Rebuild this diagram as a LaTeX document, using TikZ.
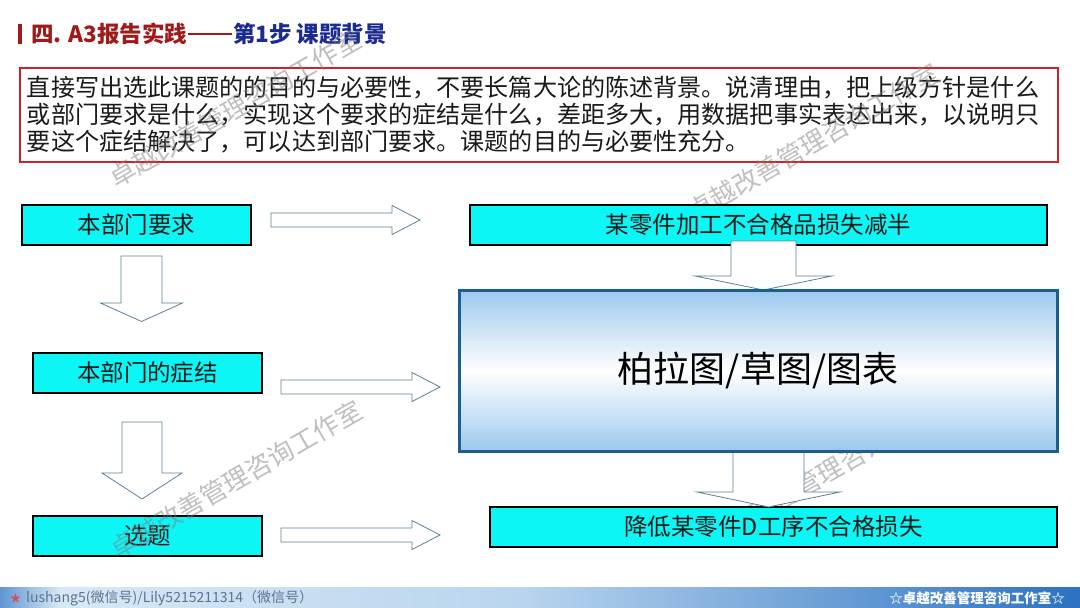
\documentclass[tikz,border=0pt]{standalone}
\usepackage{fontspec}
\setmainfont{Noto Sans CJK SC}
\definecolor{boxcyan}{HTML}{0CF6F6}
\definecolor{titlered}{HTML}{9E1B1B}
\definecolor{titleblue}{HTML}{1B2B8F}
\definecolor{framered}{HTML}{D0202A}
\definecolor{bigborder}{HTML}{1C5F8E}
\definecolor{biglight}{HTML}{9CC8EE}
\definecolor{arrowline}{HTML}{5E8093}
\definecolor{footl}{HTML}{D8E8F5}
\definecolor{footm}{HTML}{B9D5EE}
\definecolor{footr}{HTML}{2B72C2}
\definecolor{foottext}{HTML}{5C7393}
\definecolor{starred}{HTML}{D05060}
\definecolor{bodytext}{HTML}{1A1A1A}
\tikzset{
  cyanbox/.style={draw=black, line width=1.4pt, fill=boxcyan, inner sep=0pt,
    font=\fontsize{23.5}{26}\selectfont, text=bodytext},
  blockarrow/.style={draw=arrowline, fill=white, line width=0.8pt},
  watermark/.style={text=gray, opacity=0.5, rotate=30, inner sep=0pt,
    font=\fontsize{26}{26}\selectfont},
}
\begin{document}
\begin{tikzpicture}[x=1pt,y=-1pt]
\useasboundingbox (0,0) rectangle (1080,608);
\fill[white] (0,0) rectangle (1080,608);

% title
\fill[titlered] (18,24) rectangle (22,44);
\node[anchor=west, inner sep=0pt, font=\fontsize{22.5}{24}\selectfont\bfseries] (title) at (31,34)
  {\textcolor{titlered}{四. A3报告实践\kern1pt\rule[0.36em]{44pt}{1.8pt}\kern1pt}\textcolor{titleblue}{第1步 课题背景}};

% description frame
\node[draw=framered, line width=2.5pt, minimum width=1038pt, minimum height=94pt,
      inner xsep=7pt, inner ysep=0pt, text width=1024pt, align=left,
      font=\fontsize{24.1}{27}\selectfont, text=bodytext] (desc) at (539,115)
  {直接写出选此课题的的目的与必要性，不要长篇大论的陈述背景。说清理由，把上级方针是什么\\
   或部门要求是什么，实现这个要求的症结是什么，差距多大，用数据把事实表达出来，以说明只\\
   要这个症结解决了，可以达到部门要求。课题的目的与必要性充分。};

% watermarks behind some boxes
\node[watermark] (wmC) at (813,142) {卓越改善管理咨询工作室};
\node[watermark] (wmD) at (830,470) {卓越改善管理咨询工作室};

% boxes
\node[cyanbox, minimum width=229pt, minimum height=40pt] (b1) at (136.5,225) {本部门要求};
\node[cyanbox, minimum width=577pt, minimum height=40pt] (b2) at (758.5,225) {某零件加工不合格品损失减半};
\node[cyanbox, minimum width=229pt, minimum height=40pt] (b3) at (147.5,373) {本部门的症结};
\node[cyanbox, minimum width=567pt, minimum height=40pt] (b4) at (773.5,527) {降低某零件D工序不合格损失};
\node[cyanbox, minimum width=229pt, minimum height=40pt] (b5) at (147.5,536) {选题};

% block arrows (right)
\draw[blockarrow] (271,213) -- (392,213) -- (392,205.5) -- (420,220) -- (392,234.5) -- (392,227) -- (271,227) -- cycle;
\draw[blockarrow] (281,380) -- (412,380) -- (412,372.5) -- (440,387) -- (412,401.5) -- (412,394) -- (281,394) -- cycle;
\draw[blockarrow] (281,528) -- (412,528) -- (412,520.5) -- (440,535) -- (412,549.5) -- (412,542) -- (281,542) -- cycle;
% block arrows (down, left column)
\draw[blockarrow] (121,256) -- (121,303) -- (100.5,303) -- (141.5,321.5) -- (182.5,303) -- (162,303) -- (162,256) -- cycle;
\draw[blockarrow] (122,422) -- (122,473) -- (102,473) -- (142,499) -- (182,473) -- (162,473) -- (162,422) -- cycle;
% block arrows (down, right column)
\draw[blockarrow] (731,241) -- (731,276) -- (695,276) -- (763.5,290) -- (832,276) -- (796,276) -- (796,241) -- cycle;
\draw[blockarrow] (733,452) -- (733,492) -- (697,492) -- (768.5,507) -- (840,492) -- (804,492) -- (804,452) -- cycle;

% big box
\node[draw=bigborder, line width=3pt, minimum width=598pt, minimum height=161pt,
      top color=biglight, bottom color=biglight, middle color=white,
      font=\fontsize{36}{40}\selectfont, text=black] (big) at (758,370.5) {柏拉图/草图/图表};

% watermarks on top
\node[watermark] (wmA) at (235,108) {卓越改善管理咨询工作室};
\node[watermark] (wmB) at (236,479) {卓越改善管理咨询工作室};

% footer
\fill[left color=footr!75, right color=footl] (0,587) rectangle (60,608);
\fill[left color=footl, right color=footm] (60,587) rectangle (520,608);
\fill[left color=footm, right color=footr] (520,587) rectangle (1080,608);
\node[anchor=west, inner sep=0pt, text=starred, font=\fontsize{11}{12}\selectfont] (star) at (10,598) {★};
\node[anchor=west, inner sep=0pt, text=foottext, font=\fontsize{14}{15}\selectfont] (footl) at (26,598)
  {lushang5(微信号)/Lily5215211314（微信号）};
\node[inner sep=0pt, text=white, font=\fontsize{13.5}{15}\selectfont\bfseries] (footr) at (977,598)
  {☆卓越改善管理咨询工作室☆};
\end{tikzpicture}
\end{document}
